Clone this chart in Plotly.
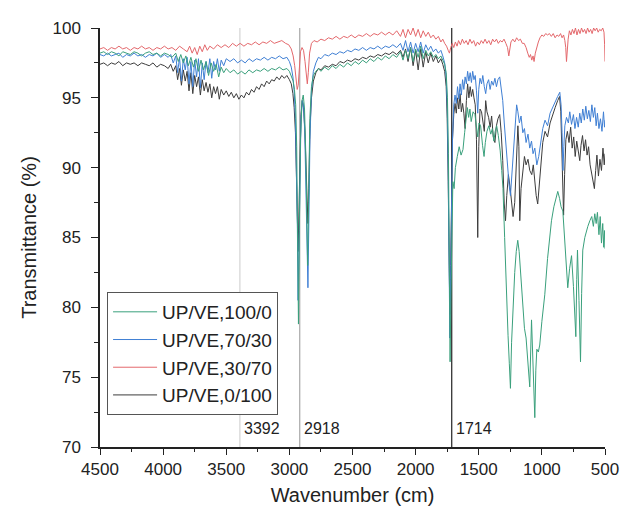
import plotly.graph_objects as go

# ---- data (wavenumber cm-1, transmittance %) ----
series_names = ["UP/VE,100/0", "UP/VE,70/30", "UP/VE,30/70", "UP/VE,0/100"]
series_colors = ["#3aa07c", "#3f7fd4", "#e4686c", "#3c3c3c"]

pts_100_0 = [
(4500,98.2),(4470,98.3),(4440,98.1),(4410,98.3),(4380,98.2),(4350,98.0),(4320,98.3),(4290,98.2),(4260,98.1),(4230,98.3),
(4200,98.2),(4170,98.0),(4140,98.2),(4110,98.3),(4080,98.1),(4050,98.2),(4020,98.0),(3990,98.2),(3960,98.1),(3930,97.9),
(3900,98.2),(3880,97.6),(3860,98.1),(3840,97.5),(3820,98.0),(3800,97.3),(3780,97.9),(3760,97.2),(3740,97.8),(3720,96.9),
(3700,97.7),(3680,97.0),(3660,97.6),(3640,96.6),(3620,97.5),(3600,96.9),(3580,97.4),(3560,96.5),(3540,97.2),(3520,96.8),
(3500,97.1),(3470,96.8),(3440,97.0),(3410,96.7),(3380,96.9),(3350,96.7),(3320,97.0),(3290,96.8),(3260,97.0),(3230,96.9),
(3200,97.1),(3170,96.9),(3140,97.1),(3110,97.0),(3080,97.2),(3050,97.0),(3020,97.1),(3000,96.9),(2985,96.6),(2970,96.2),
(2960,95.6),(2950,94.5),(2942,91.5),(2935,86.5),(2928,78.8),(2921,85.5),(2912,92.0),(2900,94.8),(2890,95.2),(2880,94.2),
(2870,91.0),(2862,86.5),(2855,83.0),(2848,87.5),(2838,93.5),(2825,95.8),(2810,96.6),(2790,96.9),(2770,97.1),(2750,96.9),
(2720,97.2),(2690,97.0),(2660,97.3),(2630,97.1),(2600,97.4),(2570,97.2),(2540,97.5),(2510,97.3),(2480,97.6),(2450,97.4),
(2420,97.7),(2390,97.5),(2360,97.8),(2330,97.6),(2300,97.9),(2270,97.7),(2240,98.0),(2210,97.8),(2180,98.1),(2150,97.9),
(2120,98.3),(2100,97.7),(2080,98.4),(2060,97.8),(2040,98.6),(2020,97.6),(2000,98.5),(1980,97.9),(1960,98.7),(1940,97.8),
(1920,98.4),(1900,98.0),(1880,98.3),(1860,97.9),(1840,98.1),(1820,97.8),(1800,98.0),(1785,97.7),(1770,97.4),(1758,96.8),
(1748,95.0),(1740,91.0),(1733,84.0),(1727,76.1),(1721,80.5),(1714,86.0),(1705,89.0),(1695,88.5),(1685,90.0),(1670,90.8),
(1655,91.5),(1640,90.9),(1625,91.3),(1612,92.5),(1600,93.8),(1590,94.3),(1580,93.6),(1570,94.2),(1560,93.3),(1545,94.0),
(1530,93.8),(1518,92.8),(1508,92.2),(1498,93.2),(1485,93.0),(1470,91.6),(1458,90.8),(1448,91.8),(1435,92.6),(1420,93.0),
(1405,92.4),(1392,92.8),(1380,91.9),(1370,92.6),(1358,93.0),(1345,92.3),(1330,91.2),(1318,89.8),(1308,88.5),(1295,85.0),
(1282,81.0),(1268,78.0),(1258,76.0),(1249,74.2),(1240,77.5),(1228,80.5),(1215,82.5),(1203,84.0),(1191,84.8),(1180,84.0),
(1165,81.8),(1151,80.0),(1138,78.5),(1125,77.8),(1110,76.2),(1096,74.3),(1082,79.1),(1068,76.0),(1056,72.1),(1048,75.5),
(1040,77.0),(1028,76.8),(1017,77.3),(1000,79.0),(977,80.9),(955,83.5),(940,85.0),(924,86.2),(905,87.2),(890,87.8),
(874,88.3),(860,87.8),(848,87.2),(834,86.9),(822,85.0),(810,83.0),(795,81.4),(780,82.8),(765,83.7),(750,81.5),
(740,79.5),(731,77.9),(724,82.0),(718,84.1),(706,80.5),(694,76.1),(685,81.0),(676,84.1),(660,85.0),(648,85.5),
(636,85.8),(620,86.2),(605,86.5),(592,85.8),(581,86.7),(570,86.0),(560,86.8),(548,85.2),(538,86.5),(528,84.6),
(518,86.0),(510,84.3),(503,85.5),(500,84.2),
]

pts_70_30 = [
(4500,98.1),(4470,98.0),(4440,98.2),(4410,98.0),(4380,98.1),(4350,98.2),(4320,97.9),(4290,98.1),(4260,98.0),(4230,98.2),
(4200,98.0),(4170,98.1),(4140,97.9),(4110,98.1),(4080,98.0),(4050,98.2),(4020,97.9),(3990,98.1),(3960,97.9),(3940,98.1),
(3920,97.5),(3900,98.0),(3885,96.8),(3870,97.9),(3855,96.2),(3840,97.8),(3825,97.0),(3810,97.9),(3795,96.0),(3780,97.6),
(3765,95.8),(3750,97.7),(3735,96.5),(3720,97.8),(3705,95.7),(3690,97.5),(3675,96.3),(3660,97.6),(3645,96.8),(3630,97.8),
(3615,96.4),(3600,97.6),(3585,97.0),(3570,97.8),(3555,96.9),(3540,97.7),(3520,97.3),(3500,97.8),(3470,97.6),(3440,97.8),
(3410,97.5),(3380,97.7),(3350,97.5),(3320,97.8),(3290,97.6),(3260,97.8),(3230,97.7),(3200,97.9),(3170,97.7),(3140,97.9),
(3110,97.8),(3080,98.0),(3050,97.8),(3020,97.9),(3000,97.6),(2985,97.2),(2972,96.5),(2962,95.5),(2952,93.5),(2944,90.5),
(2937,86.0),(2931,80.5),(2925,84.5),(2917,90.0),(2908,93.5),(2898,94.8),(2888,94.5),(2878,92.5),(2868,88.5),(2860,84.5),
(2853,81.4),(2846,86.0),(2837,92.0),(2825,95.5),(2810,96.9),(2790,97.5),(2770,97.9),(2750,97.8),(2720,98.1),(2690,98.0),
(2660,98.2),(2630,98.1),(2600,98.3),(2570,98.2),(2540,98.4),(2510,98.3),(2480,98.5),(2450,98.4),(2420,98.6),(2390,98.4),
(2360,98.6),(2330,98.5),(2300,98.7),(2270,98.5),(2240,98.7),(2210,98.6),(2180,98.8),(2150,98.6),(2120,98.9),(2100,98.4),
(2080,99.1),(2060,98.3),(2040,99.0),(2020,98.2),(2000,98.9),(1980,98.3),(1960,99.0),(1940,98.2),(1920,98.8),(1900,98.4),
(1880,98.7),(1860,98.3),(1840,98.5),(1820,98.2),(1800,98.4),(1785,98.0),(1770,97.5),(1758,96.5),(1750,94.5),(1742,90.0),
(1735,83.0),(1729,77.8),(1723,82.0),(1716,88.0),(1708,92.0),(1698,94.5),(1688,95.2),(1678,94.6),(1668,95.8),(1658,94.9),
(1648,96.0),(1638,95.2),(1628,96.3),(1618,95.6),(1608,96.5),(1598,96.0),(1588,96.9),(1578,96.2),(1568,96.8),(1558,96.1),
(1548,96.9),(1538,96.3),(1528,96.6),(1518,95.5),(1508,93.9),(1500,95.6),(1490,96.4),(1478,96.0),(1468,96.6),(1456,95.8),
(1445,95.3),(1435,96.0),(1422,96.3),(1410,95.6),(1398,96.2),(1385,95.9),(1372,96.4),(1360,95.8),(1348,96.3),(1334,96.5),
(1322,95.8),(1310,94.8),(1298,93.2),(1285,91.5),(1272,90.0),(1260,88.8),(1249,88.0),(1238,89.5),(1226,91.5),(1213,93.3),
(1200,94.5),(1190,94.0),(1178,93.2),(1165,93.7),(1151,92.5),(1138,92.8),(1125,91.8),(1110,92.4),(1096,91.4),(1082,91.9),
(1070,91.0),(1056,91.4),(1040,90.2),(1025,90.8),(1010,91.8),(993,92.8),(975,93.4),(955,93.0),(935,93.9),(915,94.3),
(895,94.8),(875,95.1),(858,95.4),(848,94.5),(840,92.5),(833,89.8),(826,91.5),(818,93.0),(805,93.6),(790,93.2),
(779,94.0),(765,93.1),(750,93.8),(738,92.8),(725,93.6),(712,92.9),(700,93.9),(688,93.2),(676,94.2),(664,93.4),
(652,94.4),(640,93.5),(628,94.1),(616,93.3),(604,94.5),(592,93.6),(581,94.3),(570,93.0),(560,93.9),(548,92.8),
(536,93.5),(524,92.6),(512,94.0),(504,92.9),(500,93.4),
]

pts_30_70 = [
(4500,98.5),(4470,98.6),(4440,98.4),(4410,98.6),(4380,98.5),(4350,98.7),(4320,98.5),(4290,98.6),(4260,98.4),(4230,98.6),
(4200,98.5),(4170,98.7),(4140,98.5),(4110,98.6),(4080,98.4),(4050,98.6),(4020,98.5),(3990,98.7),(3960,98.5),(3930,98.6),
(3900,98.4),(3870,98.7),(3840,98.5),(3810,98.3),(3790,98.7),(3770,98.2),(3750,98.6),(3730,98.1),(3710,98.7),(3690,98.3),
(3670,98.8),(3650,98.4),(3630,98.7),(3600,98.5),(3570,98.8),(3540,98.6),(3510,98.8),(3480,98.6),(3450,98.9),(3420,98.7),
(3390,98.9),(3360,98.7),(3330,98.9),(3300,98.8),(3270,99.0),(3240,98.8),(3210,99.0),(3180,98.9),(3150,99.1),(3120,98.9),
(3090,99.0),(3060,99.1),(3030,98.9),(3005,98.8),(2985,98.5),(2970,98.0),(2958,97.3),(2948,96.4),(2938,95.6),(2930,95.9),
(2922,97.0),(2912,98.3),(2900,98.6),(2888,98.4),(2876,97.6),(2866,96.6),(2858,96.0),(2850,96.8),(2840,98.2),(2825,98.9),
(2805,99.1),(2780,99.0),(2750,99.2),(2720,99.1),(2690,99.3),(2660,99.2),(2630,99.4),(2600,99.2),(2570,99.4),(2540,99.3),
(2510,99.5),(2480,99.3),(2450,99.5),(2420,99.4),(2390,99.6),(2360,99.4),(2330,99.6),(2300,99.5),(2270,99.7),(2240,99.5),
(2210,99.7),(2180,99.5),(2150,99.8),(2120,99.4),(2100,99.9),(2080,99.3),(2060,99.9),(2040,99.5),(2020,100.0),(2000,99.4),
(1980,99.9),(1960,99.3),(1940,99.8),(1920,99.4),(1900,99.7),(1880,99.3),(1860,99.5),(1840,99.2),(1820,99.4),(1800,99.0),
(1785,99.2),(1770,98.9),(1755,98.7),(1742,98.4),(1732,98.2),(1722,98.6),(1710,98.9),(1698,98.6),(1685,99.0),(1672,98.7),
(1660,99.1),(1645,98.8),(1630,99.2),(1615,98.9),(1600,99.1),(1585,98.8),(1570,99.2),(1555,98.9),(1540,99.1),(1525,98.7),
(1510,99.0),(1495,98.8),(1480,99.1),(1465,98.9),(1450,99.2),(1435,98.9),(1420,99.1),(1405,98.8),(1390,99.2),(1375,99.0),
(1360,99.2),(1345,98.9),(1330,99.1),(1315,99.0),(1300,99.2),(1285,98.9),(1272,98.6),(1262,98.0),(1255,98.4),(1245,99.0),
(1230,99.2),(1215,99.0),(1200,99.3),(1185,99.1),(1170,99.2),(1155,98.9),(1140,98.9),(1125,98.6),(1112,98.2),(1100,97.9),
(1090,98.1),(1080,97.7),(1070,98.0),(1062,97.6),(1052,98.2),(1040,98.7),(1028,99.0),(1015,99.3),(1000,99.5),(985,99.4),
(970,99.6),(955,99.5),(940,99.6),(925,99.4),(910,99.6),(895,99.3),(880,99.5),(866,99.4),(852,99.6),(840,99.3),
(828,99.5),(818,99.1),(811,98.6),(805,97.6),(799,98.5),(792,99.2),(782,99.8),(770,99.5),(758,99.9),(746,99.6),
(734,100.0),(722,99.5),(710,99.9),(698,99.6),(686,100.0),(674,99.7),(662,99.9),(650,99.6),(638,100.0),(626,99.7),
(614,99.9),(602,99.6),(590,100.0),(578,99.8),(566,100.0),(554,99.7),(542,99.9),(530,99.8),(518,100.0),(508,99.7),
(503,98.8),(500,97.6),
]

pts_0_100 = [
(4500,97.4),(4470,97.5),(4440,97.3),(4410,97.5),(4380,97.4),(4350,97.6),(4320,97.3),(4290,97.5),(4260,97.4),(4230,97.5),
(4200,97.3),(4170,97.5),(4140,97.4),(4110,97.3),(4080,97.5),(4050,97.2),(4020,97.4),(3990,97.3),(3960,97.1),(3940,97.4),
(3920,96.9),(3900,97.3),(3885,96.3),(3870,97.1),(3855,95.9),(3840,97.0),(3825,96.2),(3810,96.9),(3795,95.5),(3780,96.8),
(3765,95.3),(3750,96.6),(3735,95.8),(3720,96.5),(3705,95.2),(3690,96.3),(3675,95.5),(3660,96.1),(3645,95.4),(3630,96.0),
(3615,95.0),(3600,95.8),(3585,95.3),(3570,95.8),(3555,94.9),(3540,95.6),(3520,95.2),(3500,95.5),(3480,95.1),(3460,95.4),
(3440,95.0),(3420,95.3),(3400,94.9),(3380,95.2),(3360,95.0),(3340,95.4),(3320,95.2),(3300,95.6),(3280,95.4),(3260,95.8),
(3240,95.6),(3220,96.0),(3200,95.8),(3180,96.2),(3160,96.0),(3140,96.3),(3120,96.2),(3100,96.5),(3080,96.3),(3060,96.6),
(3040,96.4),(3020,96.6),(3000,96.3),(2985,96.0),(2972,95.3),(2962,94.3),(2952,92.5),(2944,90.0),(2937,86.5),(2931,84.0),
(2925,86.5),(2917,91.0),(2908,93.8),(2898,94.8),(2888,94.3),(2878,92.8),(2868,90.5),(2860,88.0),(2853,86.0),(2846,88.5),
(2837,92.8),(2825,95.0),(2810,96.2),(2790,96.8),(2770,97.1),(2750,97.0),(2720,97.3),(2690,97.2),(2660,97.4),(2630,97.3),
(2600,97.6),(2570,97.5),(2540,97.7),(2510,97.6),(2480,97.8),(2450,97.7),(2420,97.9),(2390,97.8),(2360,98.0),(2330,97.9),
(2300,98.1),(2270,98.0),(2240,98.2),(2210,98.1),(2180,98.3),(2150,98.1),(2120,98.4),(2100,97.9),(2080,98.5),(2060,97.6),
(2040,98.6),(2020,97.3),(2000,98.4),(1980,97.0),(1960,98.5),(1940,97.2),(1920,98.3),(1900,97.5),(1880,98.2),(1860,97.6),
(1840,98.0),(1820,97.5),(1800,97.8),(1785,97.4),(1770,96.9),(1758,95.8),(1750,93.5),(1742,89.0),(1735,84.0),(1729,79.5),
(1723,83.0),(1716,88.5),(1708,92.0),(1698,93.8),(1688,94.6),(1678,93.9),(1668,95.0),(1658,94.2),(1648,95.3),(1638,94.0),
(1628,94.6),(1618,93.9),(1608,92.8),(1598,94.8),(1588,96.0),(1578,95.0),(1568,95.8),(1558,95.1),(1548,95.6),(1538,95.0),
(1528,94.5),(1518,92.0),(1508,85.0),(1500,91.5),(1490,94.2),(1478,94.0),(1468,93.2),(1456,92.6),(1445,94.8),(1435,94.0),
(1422,93.6),(1410,92.9),(1398,93.7),(1385,92.2),(1372,91.8),(1360,93.0),(1348,93.5),(1334,93.8),(1322,92.5),(1310,90.5),
(1298,87.4),(1288,86.2),(1278,88.0),(1265,89.5),(1252,88.6),(1239,87.4),(1228,86.5),(1215,87.5),(1200,91.0),(1190,93.0),
(1182,91.5),(1175,86.2),(1165,88.5),(1151,90.0),(1138,90.8),(1125,90.2),(1110,90.6),(1096,89.8),(1080,89.5),(1068,90.2),
(1056,88.8),(1045,88.0),(1033,87.4),(1020,88.8),(1008,90.0),(993,91.8),(975,92.6),(955,92.2),(935,93.2),(915,93.8),
(895,94.3),(875,94.8),(860,95.1),(850,94.0),(842,90.5),(835,87.5),(828,86.6),(820,89.5),(810,92.0),(798,92.6),
(785,91.8),(772,92.9),(760,91.4),(748,92.2),(736,90.8),(724,91.9),(712,91.2),(700,90.5),(690,91.6),(678,92.3),
(666,91.2),(654,92.0),(642,90.9),(630,91.5),(618,90.2),(606,89.6),(594,88.8),(584,88.5),(574,89.8),(564,90.9),
(552,89.4),(540,90.6),(528,89.8),(516,91.4),(506,90.2),(500,91.0),
]

marker_lines = [3392, 2918, 1714]
marker_line_colors = ["#d4d4d4", "#a8a8a8", "#222222"]
marker_labels = ["3392", "2918", "1714"]

x_ticks = [4500, 4000, 3500, 3000, 2500, 2000, 1500, 1000, 500]
y_ticks = [70, 75, 80, 85, 90, 95, 100]

all_pts = [pts_100_0, pts_70_30, pts_30_70, pts_0_100]

fig = go.Figure()
# draw the 0/100 series first so the 100/0 series lies on top; legend is reversed
for i in [3, 2, 1, 0]:
    xs = [p[0] for p in all_pts[i]]
    ys = [p[1] for p in all_pts[i]]
    fig.add_trace(go.Scatter(x=xs, y=ys, mode="lines", name=series_names[i],
                             line=dict(color=series_colors[i], width=1)))

for wn, col, lab in zip(marker_lines, marker_line_colors, marker_labels):
    fig.add_shape(type="line", xref="x", yref="paper", x0=wn, x1=wn, y0=0, y1=1,
                  line=dict(color=col, width=1.2), layer="below")
    fig.add_annotation(x=wn, y=71.3, xref="x", yref="y", text=lab, showarrow=False,
                       xanchor="left", xshift=2, font=dict(size=16, color="#222"))

font_family = "Liberation Sans, Arial, sans-serif"
fig.update_layout(
    width=622, height=506,
    margin=dict(l=92, r=25, t=11, b=64),
    paper_bgcolor="white", plot_bgcolor="white",
    font=dict(family=font_family, color="#222"),
    showlegend=True,
    legend=dict(x=0.014, y=0.37, xanchor="left", yanchor="top", traceorder="reversed",
                bordercolor="#555", borderwidth=1, bgcolor="white", itemwidth=44,
                font=dict(size=19, color="#222"), tracegroupgap=0),
)
fig.update_xaxes(range=[4500, 500], tickmode="array", tickvals=x_ticks,
                 ticks="outside", ticklen=6, tickwidth=1.2, tickcolor="#222",
                 showline=True, linecolor="#222", linewidth=1.5, showgrid=False,
                 zeroline=False, tickfont=dict(size=17, color="#222"),
                 minor=dict(dtick=250, ticks="outside", ticklen=3, tickcolor="#222", showgrid=False),
                 title=dict(text="Wavenumber (cm)", font=dict(size=20, color="#222"), standoff=10))
fig.update_yaxes(range=[70, 100], tickmode="array", tickvals=y_ticks,
                 ticks="outside", ticklen=7, tickwidth=1.2, tickcolor="#222",
                 showline=True, linecolor="#222", linewidth=1.5, showgrid=False,
                 zeroline=False, tickfont=dict(size=17, color="#222"), ticklabelstandoff=7,
                 minor=dict(dtick=2.5, ticks="outside", ticklen=4, tickcolor="#222", showgrid=False),
                 title=dict(text="Transmittance (%)", font=dict(size=20, color="#222"), standoff=10))

fig.write_html("out.html")
